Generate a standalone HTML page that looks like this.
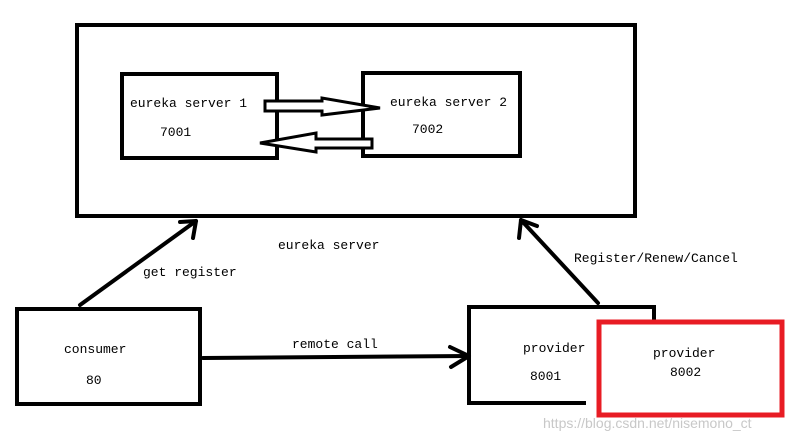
<!DOCTYPE html>
<html><head><style>html,body{margin:0;padding:0;background:#fff}svg{display:block}text{font-family:"Liberation Mono","DejaVu Sans Mono",monospace;font-size:13px;fill:#000}</style></head>
<body>
<svg width="789" height="439" viewBox="0 0 789 439" xmlns="http://www.w3.org/2000/svg">
<g fill="none" stroke="#000" stroke-width="4">
<rect x="77" y="25" width="558" height="191"/>
<rect x="122" y="74" width="155" height="84"/>
<rect x="363" y="73" width="157" height="83"/>
<rect x="17" y="309" width="183" height="95"/>
<path d="M586 403 H469 V307 H654 V322"/>
</g>
<g fill="#fff" stroke="#000" stroke-width="3">
<path d="M265 101 H322 V98 L380 108 L322 115 V111 H265 Z"/>
<path d="M372 139 V148 H316 V152 L260 143 L316 133 V139 Z"/>
</g>
<g fill="none" stroke="#000" stroke-width="4" stroke-linecap="round" stroke-linejoin="round">
<path d="M80 305 L196 221"/><path d="M180 222 L196 221 L193 238"/>
<path d="M598 303 L521 220"/><path d="M519 238 L521 220 L537 226"/>
<path d="M203 358 L469 356"/><path d="M450 347 L469 356 L451 367"/>
</g>
<rect x="599" y="322" width="183" height="93" fill="none" stroke="#e81c24" stroke-width="5"/>
<text x="130" y="107">eureka server 1</text>
<text x="160" y="136">7001</text>
<text x="390" y="106">eureka server 2</text>
<text x="412" y="133">7002</text>
<text x="278" y="249">eureka server</text>
<text x="143" y="276">get register</text>
<text x="574" y="262">Register/Renew/Cancel</text>
<text x="292" y="348">remote call</text>
<text x="64" y="353">consumer</text>
<text x="86" y="384">80</text>
<text x="523" y="352">provider</text>
<text x="530" y="380">8001</text>
<text x="653" y="357">provider</text>
<text x="670" y="376">8002</text>
<text x="543" y="428" style="font-family:'Liberation Sans',sans-serif;font-size:14px;fill:#c8c8c8">https://blog.csdn.net/nisemono_ct</text>
</svg>
</body></html>
